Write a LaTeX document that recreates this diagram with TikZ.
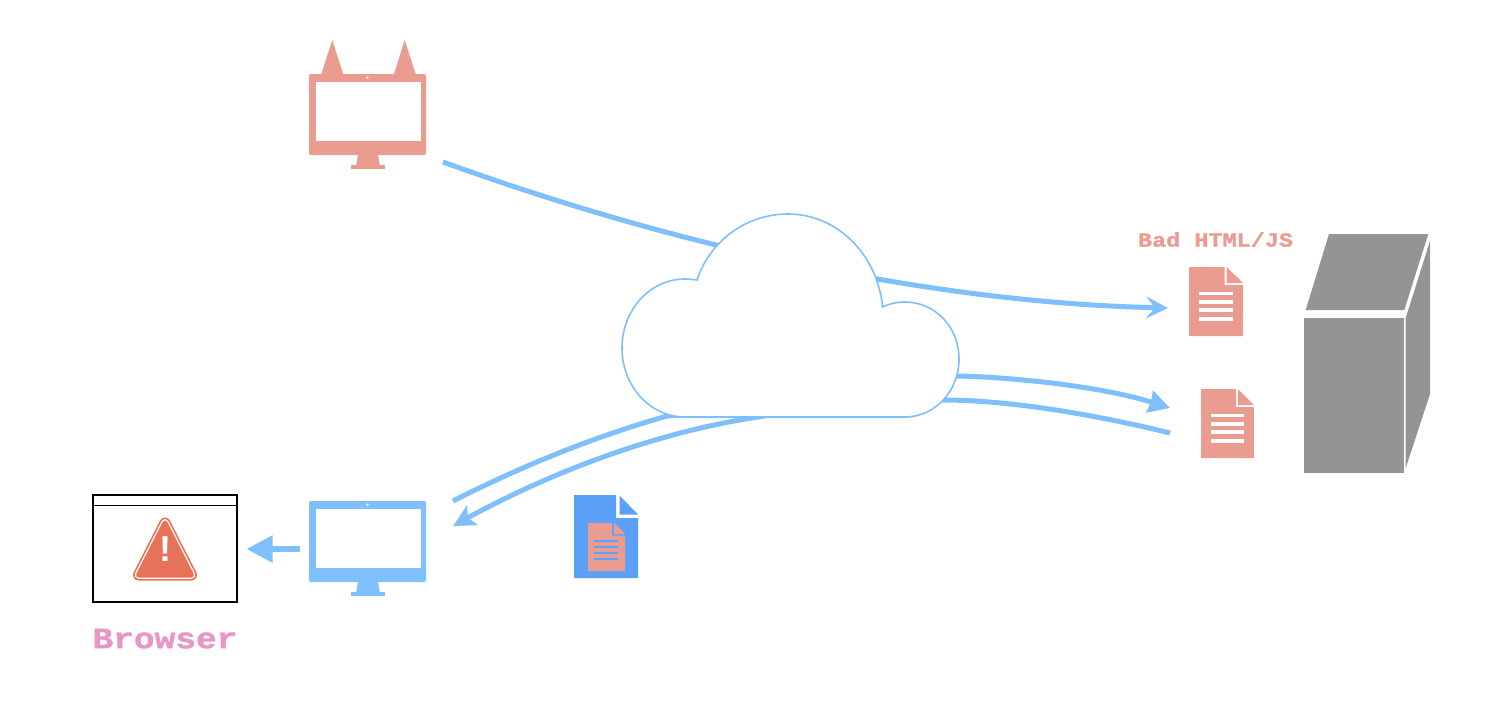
\documentclass[tikz,border=0pt]{standalone}
\usepackage{fontspec}
\newfontfamily\heavymono[FakeBold=1.2]{Liberation Mono Bold}
\usetikzlibrary{arrows.meta}
\definecolor{salmon}{HTML}{E99C8F}
\definecolor{sky}{HTML}{7FBFFC}
\definecolor{docblue}{HTML}{5CA1F8}
\definecolor{pinkish}{HTML}{E896C8}
\definecolor{warn}{HTML}{E67359}
\definecolor{srv}{HTML}{949494}
\tikzset{
  link/.style={draw=sky,line width=5pt},
  headA/.style={-{Stealth[length=22pt,width=22pt,inset=9pt]}},
  cloudline/.style={draw=sky,fill=white,line width=1.6pt},
  pics/monitor/.style={code={
    \fill[#1,rounded corners=2pt] (0,0) rectangle (117,81);
    \fill[#1] (49,81) -- (47,92) -- (71,92) -- (69,81) -- cycle;
    \fill[#1] (42,91) rectangle (76,95);
    \fill[white] (7,8) rectangle (112,67);
    \fill[white] (58.5,3.6) circle (1.3pt);
  }},
  pics/paper/.style={code={
    \fill[salmon] (0,0) -- (35.5,0) -- (35.5,18) -- (54,18) -- (54,69) -- (0,69) -- cycle;
    \fill[salmon] (37.5,0) -- (54,16) -- (37.5,16) -- cycle;
    \foreach \yy in {26.3,34.7,43,51.7}{\fill[white] (10,\yy-1.8) rectangle (44,\yy+1.8);}
  }}
}
\begin{document}
\begin{tikzpicture}[x=1pt,y=-1pt]
\useasboundingbox (0,0) rectangle (1510,720);
\fill[white] (0,0) rectangle (1510,720);

% end points
\coordinate (catout) at (443,162);
\coordinate (docin) at (1168,308);
\coordinate (clientout) at (453,501);
\coordinate (srvin) at (1170,433);
\coordinate (srvout) at (1170,408);
\coordinate (clientin) at (453,526);
\coordinate (clientleft) at (300,549);
\coordinate (browserin) at (246.5,549);

% connectors
\draw[link,headA] (catout) .. controls (700,255) and (950,303) .. (docin);
\draw[link] (clientout) .. controls (520,467) and (590,438) .. (667,416) -- (943,400) .. controls (1000,400) and (1080,411) .. (srvin);
\draw[link,{Stealth[length=22pt,width=22pt,inset=5pt]}-{Stealth[length=21pt,width=22pt,inset=1pt]}] (clientin) .. controls (540,478) and (650,432) .. (765,416) -- (957,376) .. controls (1010,377) and (1100,386) .. (srvout);
\draw[link,line width=5.5pt,-{Triangle[length=26pt,width=26pt]}] (clientleft) -- (browserin);

% cloud
\path[cloudline] (685,417)
  .. controls (650,417) and (622,386) .. (622,348)
  .. controls (622,310) and (650,279) .. (685,279)
  .. controls (689,279) and (693,279.5) .. (697,280)
  .. controls (710,241) and (746,214) .. (788,214)
  .. controls (836,214) and (877,253) .. (882.7,307)
  .. controls (890,303.5) and (897,302) .. (905,302)
  .. controls (935,302) and (959,327) .. (959,359)
  .. controls (959,391) and (935,417) .. (905,417)
  -- cycle;

% attacker monitor with ears
\fill[salmon] (321,75) -- (332.3,40) -- (343.5,75) -- cycle;
\fill[salmon] (393.7,75) -- (404.7,40) -- (416,75) -- cycle;
\path (309,74) pic {monitor=salmon};

% client monitor
\path (309,501) pic {monitor=sky};

% browser
\draw[black,line width=2pt] (93,495) rectangle (237,602);
\draw[black,line width=1pt] (93,505.5) -- (237,505.5);
\draw[warn,line width=11pt,line join=round,fill=warn] (165,523) -- (138.5,575) -- (191.5,575) -- cycle;
\draw[white,line width=7.6pt,line join=round] (165,523) -- (138.5,575) -- (191.5,575) -- cycle;
\draw[warn,fill=warn,line width=5pt,line join=round] (165,523) -- (138.5,575) -- (191.5,575) -- cycle;
\node[font=\fontspec{Liberation Sans Bold}\fontsize{36}{36}\selectfont,text=white,inner sep=0pt] (bang) at (165,549) {!};

\node[text=pinkish,inner sep=0pt,yscale=0.85,font=\heavymono\fontsize{34.5}{34.5}\selectfont] (browserlabel) at (165,638.7) {Browser};

% blue document with inner page
\fill[docblue] (574,495) -- (616,495) -- (616,518) -- (638,518) -- (638,578) -- (574,578) -- cycle;
\fill[docblue] (619.5,495.5) -- (638,514.5) -- (619.5,514.5) -- cycle;
\fill[salmon] (588,523) -- (612,523) -- (612,535.7) -- (625,535.7) -- (625,571) -- (588,571) -- cycle;
\fill[salmon] (614,523) -- (625,534) -- (614,534) -- cycle;
\foreach \yy in {540.7,546.7,552.7,558.7}{\fill[docblue] (594,\yy-1) rectangle (618,\yy+1);}

% bad documents
\path (1189,267) pic {paper};
\path (1201,389) pic[xscale=0.98] {paper};
\node[text=salmon,inner sep=0pt,yscale=0.85,font=\heavymono\fontsize{23.5}{23.5}\selectfont] (badlabel) at (1215.5,239.5) {Bad HTML/JS};

% server
\fill[srv] (1304,318) rectangle (1404,473);
\fill[srv] (1329,234) -- (1428.3,234) -- (1404.3,310) -- (1305.7,310) -- cycle;
\fill[srv] (1405.7,318) -- (1430,241) -- (1430,394) -- (1405.7,468) -- cycle;
\end{tikzpicture}
\end{document}
